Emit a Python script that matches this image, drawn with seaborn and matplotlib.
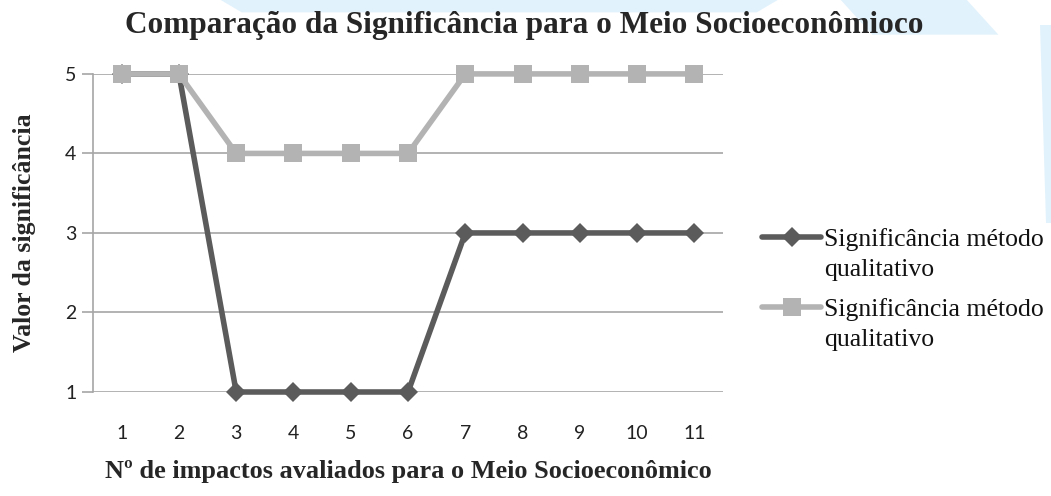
import matplotlib
matplotlib.use("Agg")
import matplotlib.pyplot as plt
import seaborn as sns
import pandas as pd
from matplotlib.lines import Line2D
from matplotlib.patches import Polygon

impacts = [1, 2, 3, 4, 5, 6, 7, 8, 9, 10, 11]
serie_escura = [5, 5, 1, 1, 1, 1, 3, 3, 3, 3, 3]
serie_clara = [5, 5, 4, 4, 4, 4, 5, 5, 5, 5, 5]
legenda = [["Significância método", "qualitativo"], ["Significância método", "qualitativo"]]
titulo = "Comparação da Significância para o Meio Socioeconômioco"
xlabel = "Nº de impactos avaliados para o Meio Socioeconômico"
ylabel = "Valor da significância"

sns.set_theme(style="white")
plt.rcParams['font.family'] = ['Liberation Serif', 'DejaVu Serif']

c_dark = "#5b5b5b"
c_light = "#b3b3b3"
c_grid = "#a6a6a6"

fig = plt.figure(figsize=(10.51, 4.96), dpi=100)
fig.patch.set_facecolor("white")

# faint watermark shapes at top / right
for pts in [
    [(0.21, 1.0), (0.74, 1.0), (0.72, 0.975), (0.23, 0.975)],
    [(0.80, 1.0), (0.92, 1.0), (0.95, 0.93), (0.83, 0.93)],
    [(0.99, 0.95), (1.0, 0.95), (1.0, 0.55), (0.995, 0.55)],
]:
    fig.patches.append(Polygon(pts, closed=True, transform=fig.transFigure,
                               facecolor="#e2f2fc", edgecolor="none", zorder=0))

ax = fig.add_axes([0.0885, 0.2097, 0.5995, 0.6413])
ax.set_facecolor("none")

df = pd.DataFrame({"x": impacts, "escura": serie_escura, "clara": serie_clara})

sns.lineplot(data=df, x="x", y="escura", ax=ax, color=c_dark, linewidth=4,
             marker="D", markersize=10, markeredgewidth=0, clip_on=False, zorder=3)
sns.lineplot(data=df, x="x", y="clara", ax=ax, color=c_light, linewidth=4,
             marker="s", markersize=13, markeredgewidth=0, clip_on=False, zorder=4)

ax.set_xlim(0.5, 11.5)
ax.set_ylim(1, 5)
ax.set_yticks([1, 2, 3, 4, 5])
ax.set_xticks(impacts)
ax.grid(axis="y", color=c_grid, linewidth=1.2)
ax.set_axisbelow(True)
for s in ["top", "right", "bottom"]:
    ax.spines[s].set_visible(False)
ax.spines["left"].set_color(c_grid)
ax.spines["left"].set_linewidth(1.2)
ax.tick_params(axis="y", length=8, color=c_grid, width=1.2, pad=4, left=True)
ax.tick_params(axis="x", length=0, pad=24)
for lab in ax.get_xticklabels() + ax.get_yticklabels():
    lab.set_fontfamily(["Lato", "DejaVu Sans"])
    lab.set_fontsize(14)
    lab.set_color("#222222")

ax.set_xlabel(xlabel, fontsize=18.9, fontweight="bold", labelpad=13)
ax.set_ylabel(ylabel, fontsize=18.5, fontweight="bold", labelpad=21)
fig.text(0.4986, 0.948, titulo, ha="center", va="center",
         fontsize=22.5, fontweight="bold")

series_handles = [
    Line2D([], [], color=c_dark, linewidth=4, marker="D", markersize=10, markeredgewidth=0),
    Line2D([], [], color=c_light, linewidth=4, marker="s", markersize=13, markeredgewidth=0),
]
blank = Line2D([], [], linestyle="none", marker=None)
for h, labs, yc in zip(series_handles, legenda, [0.487, 0.345]):
    fig.legend([h, blank], labs, loc="center left", bbox_to_anchor=(0.725, yc),
               frameon=False, fontsize=18.5, handlelength=2.3, handletextpad=0.1,
               labelspacing=0.27, borderpad=0, borderaxespad=0,
               labelcolor="#111111")

fig.savefig("out.png", dpi=100, facecolor="white")
